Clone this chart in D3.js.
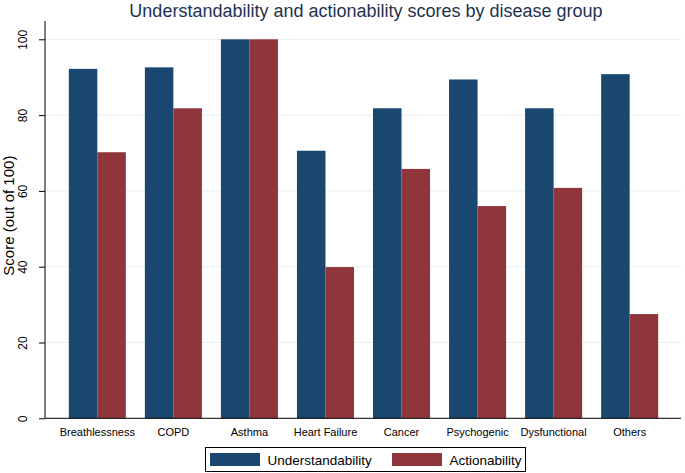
<!DOCTYPE html>
<html>
<head>
<meta charset="utf-8">
<script src="https://cdn.jsdelivr.net/npm/d3@7"></script>
<style>
  body { margin: 0; background: #fff; }
  text { font-family: "Liberation Sans", Arial, sans-serif; }
</style>
</head>
<body>
<svg id="chart" width="685" height="473"></svg>
<script>
// data
var groups = ["Breathlessness", "COPD", "Asthma", "Heart Failure", "Cancer", "Psychogenic", "Dysfunctional", "Others"];
var series = ["Understandability", "Actionability"];
var understandability = [92.2, 92.6, 100, 70.6, 81.8, 89.4, 81.8, 90.8];
var actionability = [70.2, 81.8, 100, 39.9, 65.8, 56.0, 60.8, 27.5];
var yTicks = [0, 20, 40, 60, 80, 100];
var colors = ["#1a476f", "#90353b"];

var svg = d3.select("#chart");
// plot box (note: "top" is taken by window.top, so prefixed names)
var pLeft = 45, pRight = 681, pTop = 21, pBottom = 418.3;

var x = d3.scaleBand().domain(groups).range([pLeft + 1, pRight]).paddingInner(0.25).paddingOuter(0.3);
var xs = d3.scaleBand().domain(series).range([0, x.bandwidth()]);
var y = d3.scaleLinear().domain([0, 100]).range([pBottom, pBottom - 379]);

var rows = groups.map(function(g, i) {
  return { group: g, values: [understandability[i], actionability[i]] };
});

// gridlines
svg.append("g")
  .selectAll("line")
  .data(yTicks.slice(1))
  .join("line")
    .attr("x1", pLeft).attr("x2", pRight)
    .attr("y1", function(d) { return y(d); })
    .attr("y2", function(d) { return y(d); })
    .attr("stroke", "#e7eff1")
    .attr("stroke-width", 1);

// bars
svg.append("g")
  .selectAll("g")
  .data(rows)
  .join("g")
    .attr("transform", function(d) { return "translate(" + x(d.group) + ",0)"; })
  .selectAll("rect")
  .data(function(d) { return d.values.map(function(v, j) { return { s: series[j], v: v, j: j }; }); })
  .join("rect")
    .attr("x", function(d) { return xs(d.s); })
    .attr("width", xs.bandwidth())
    .attr("y", function(d) { return y(d.v); })
    .attr("height", function(d) { return pBottom - y(d.v); })
    .attr("fill", function(d) { return colors[d.j]; });

// y axis
var yAxis = svg.append("g")
  .attr("transform", "translate(" + pLeft + ",0)")
  .call(d3.axisLeft(y).tickValues(yTicks).tickSize(6).tickPadding(0));
yAxis.select(".domain").attr("d", "M0," + pTop + "V" + pBottom).attr("stroke", "#000");
yAxis.selectAll(".tick line").attr("stroke", "#000");
yAxis.selectAll(".tick text")
  .attr("x", null)
  .attr("text-anchor", "middle")
  .attr("transform", "translate(-18,0) rotate(-90)")
  .attr("dy", "0em")
  .attr("font-size", 12)
  .attr("fill", "#000");

// x axis
var xAxis = svg.append("g")
  .attr("transform", "translate(0," + pBottom + ")")
  .call(d3.axisBottom(x).tickSize(0).tickPadding(0));
xAxis.select(".domain").attr("d", "M" + pLeft + ",0H" + pRight).attr("stroke", "#000");
xAxis.selectAll(".tick text")
  .attr("y", 17.7).attr("dy", null)
  .attr("font-size", 11)
  .attr("fill", "#000");

// y title
svg.append("text")
  .attr("transform", "translate(14," + ((pTop + pBottom) / 2 - 4) + ") rotate(-90)")
  .attr("text-anchor", "middle")
  .attr("font-size", 15)
  .attr("fill", "#000")
  .text("Score (out of 100)");

// title
svg.append("text")
  .attr("x", 366).attr("y", 17)
  .attr("text-anchor", "middle")
  .attr("font-size", 18)
  .attr("fill", "#1e3250")
  .text("Understandability and actionability scores by disease group");

// legend
var legend = svg.append("g");
legend.append("rect")
  .attr("x", 205.5).attr("y", 447.5).attr("width", 320).attr("height", 24)
  .attr("fill", "#fff").attr("stroke", "#000").attr("stroke-width", 1);
var lx = [210, 392];
series.forEach(function(s, i) {
  legend.append("rect")
    .attr("x", lx[i]).attr("y", 453).attr("width", 50).attr("height", 13)
    .attr("fill", colors[i]);
  legend.append("text")
    .attr("x", lx[i] + 57.5).attr("y", 464.5)
    .attr("font-size", 13.5)
    .attr("fill", "#000")
    .text(s);
});
</script>
</body>
</html>
